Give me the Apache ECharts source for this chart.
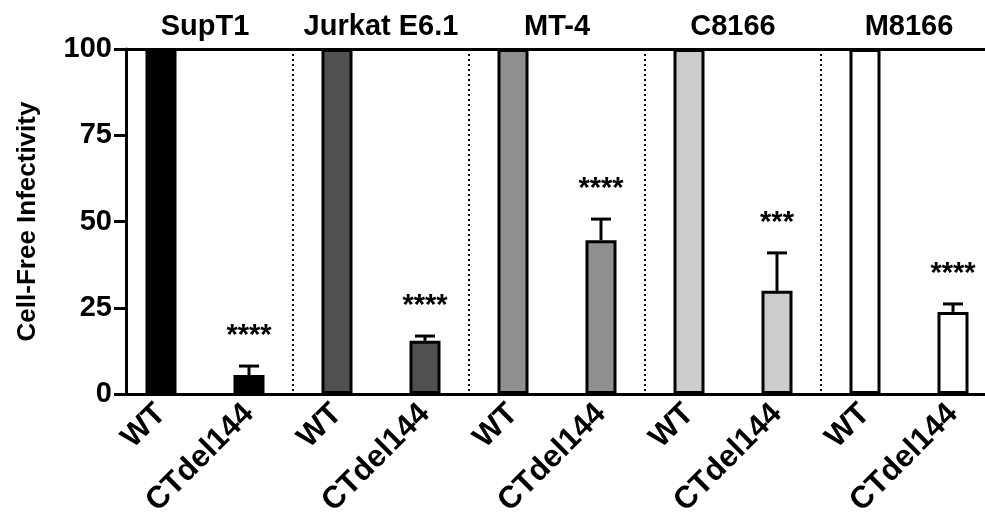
<!DOCTYPE html>
<html>
<head>
<meta charset="utf-8">
<script src="https://cdn.jsdelivr.net/npm/echarts@6/dist/echarts.min.js"></script>
<style>html,body{margin:0;padding:0;background:#fff;}#c{width:985px;height:519px;}</style>
</head>
<body>
<div id="c"></div>
<script>
const cellLines = ['SupT1', 'Jurkat E6.1', 'MT-4', 'C8166', 'M8166'];
const conditions = ['WT', 'CTdel144', 'WT', 'CTdel144', 'WT', 'CTdel144', 'WT', 'CTdel144', 'WT', 'CTdel144'];
const wtValues = [100, 100, 100, 100, 100];
const ctdelValues = [5.5, 15.4, 44.6, 29.9, 23.8];
const ctdelErr = [2.6, 1.4, 6.1, 11.0, 2.3];
const stars = ['****', '****', '****', '***', '****'];
const groupColors = ['#000000', '#505050', '#909090', '#cccccc', '#ffffff'];
const yTicks = [0, 25, 50, 75, 100];

const FONT = 'Liberation Sans, Arial, sans-serif';

const barData = [];
for (let g = 0; g < cellLines.length; g++) {
  barData.push({ value: wtValues[g], itemStyle: { color: groupColors[g] } });
  barData.push({ value: ctdelValues[g], itemStyle: { color: groupColors[g] } });
}
const errData = ctdelValues.map((v, g) => [2 * g + 1, v, v + ctdelErr[g], g]);

const chart = echarts.init(document.getElementById('c'));
chart.setOption({
  animation: false,
  backgroundColor: '#fff',
  grid: { left: 117, width: 880, top: 49, height: 345, containLabel: false, outerBoundsMode: 'none' },
  xAxis: [
    {
      type: 'category', data: conditions, position: 'bottom',
      axisLine: { lineStyle: { color: '#000', width: 3 } },
      axisTick: { show: false },
      axisLabel: { rotate: 45, interval: 0, fontSize: 31, fontWeight: 'bold', color: '#000', fontFamily: FONT, margin: 15 },
      splitLine: { show: true, interval: (i) => i > 0 && i % 2 === 0, lineStyle: { color: '#000', width: 2, type: [2, 3] } }
    },
    {
      type: 'category', data: cellLines, position: 'top',
      axisLine: { lineStyle: { color: '#000', width: 3 } },
      axisTick: { show: false },
      axisLabel: { interval: 0, fontSize: 29, fontWeight: 'bold', color: '#000', fontFamily: FONT, margin: 8 },
      splitLine: { show: false }
    }
  ],
  yAxis: {
    type: 'value', min: 0, max: 100, interval: 25, offset: -9,
    name: 'Cell-Free Infectivity', nameLocation: 'middle', nameGap: 85,
    nameTextStyle: { fontSize: 26, fontWeight: 'bold', color: '#000', fontFamily: FONT },
    axisLine: { show: true, lineStyle: { color: '#000', width: 3 } },
    axisTick: { show: true, length: 12, lineStyle: { color: '#000', width: 3 } },
    axisLabel: { fontSize: 29, fontWeight: 'bold', color: '#000', fontFamily: FONT, margin: 14,
      formatter: (v) => yTicks.includes(v) ? String(v) : '' },
    splitLine: { show: false }
  },
  series: [
    {
      type: 'bar', xAxisIndex: 0, data: barData, barWidth: 31,
      itemStyle: { borderColor: '#000', borderWidth: 3 }
    },
    {
      type: 'custom', xAxisIndex: 0, data: errData, z: 5,
      encode: { x: 0, y: [1, 2] },
      renderItem: (params, api) => {
        const x = api.value(0);
        const p0 = api.coord([x, api.value(1)]);
        const p1 = api.coord([x, api.value(2)]);
        const g = api.value(3);
        return {
          type: 'group',
          children: [
            { type: 'line', shape: { x1: p0[0], y1: p0[1], x2: p1[0], y2: p1[1] }, style: { stroke: '#000', lineWidth: 3 } },
            { type: 'line', shape: { x1: p1[0] - 10, y1: p1[1], x2: p1[0] + 10, y2: p1[1] }, style: { stroke: '#000', lineWidth: 3 } },
            { type: 'text', style: { text: stars[g], x: p1[0], y: p1[1] - 30, align: 'center', verticalAlign: 'middle',
              font: 'bold 29px ' + FONT, fill: '#000' } }
          ]
        };
      }
    }
  ]
});
</script>
</body>
</html>
